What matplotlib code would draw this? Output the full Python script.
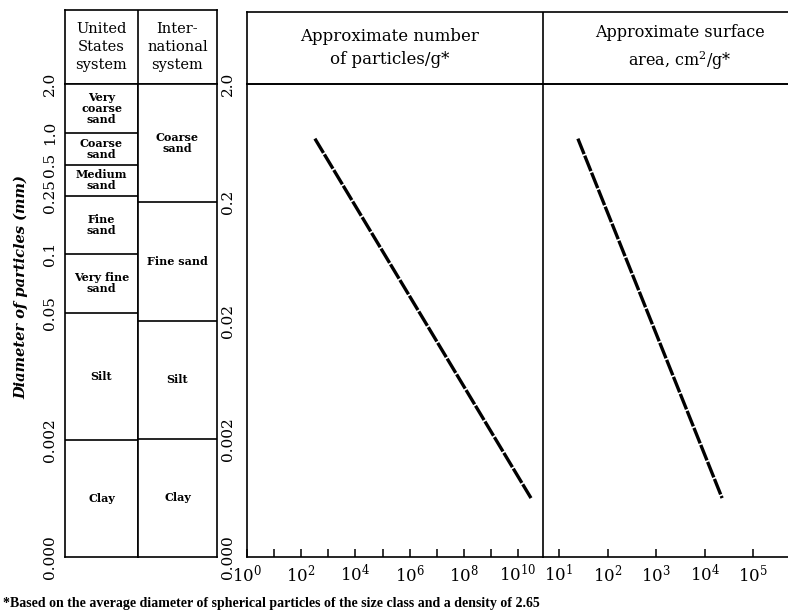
import numpy as np
import matplotlib
matplotlib.use("Agg")
import matplotlib.pyplot as plt
from matplotlib.ticker import FixedLocator, FixedFormatter, NullLocator

plt.rcParams["font.family"] = ["DejaVu Serif"]
plt.rcParams["mathtext.fontset"] = "dejavuserif"

# size classes (diameter limits, mm)
us_bounds = [2.0, 1.0, 0.5, 0.25, 0.1, 0.05, 0.002, 0.0002]
us_tick_labels = ["2.0", "1.0", "0.5", "0.25", "0.1", "0.05", "0.002", "0.000"]
us_names = ["Very\ncoarse\nsand", "Coarse\nsand", "Medium\nsand", "Fine\nsand",
            "Very fine\nsand", "Silt", "Clay"]
intl_bounds = [2.0, 0.2, 0.02, 0.002, 0.0002]
intl_tick_labels = ["2.0", "0.2", "0.02", "0.002", "0.000"]
intl_names = ["Coarse\nsand", "Fine sand", "Silt", "Clay"]

# lines
diam_line = [0.69, 0.00063]
particles_per_g = [3.2e2, 3.0e10]
surface_cm2_per_g = [2.45e1, 2.3e4]

n_ticks = [10.0 ** k for k in range(0, 11)]
s_ticks = [10.0 ** k for k in range(1, 6)]

# the US column is drawn on a schematic (non log) scale in the book
us_axis_pos = [1.0, 0.896, 0.829, 0.763, 0.641, 0.516, 0.247, 0.0]
_lg = np.log10(us_bounds)[::-1]
_ps = np.array(us_axis_pos)[::-1]


def us_forward(d):
    d = np.clip(np.asarray(d, dtype=float), 1e-12, None)
    return np.interp(np.log10(d), _lg, _ps)


def us_inverse(p):
    return 10.0 ** np.interp(p, _ps, _lg)


W, H = 788, 616
LW = 1.2


def box(x0, y0, x1, y1):
    # pixel box (top-left origin) -> figure fraction rect
    return [x0 / W, 1 - y1 / H, (x1 - x0) / W, (y1 - y0) / H]


fig = plt.figure(figsize=(W / 100, H / 100), dpi=100)

# ---- left table ----
ax_th = fig.add_axes(box(65, 10, 217, 84))
ax_th.set_xlim(0, 1)
ax_th.set_ylim(0, 1)
ax_th.set_xticks([])
ax_th.set_yticks([])
for s in ax_th.spines.values():
    s.set_linewidth(LW)
div = (138 - 65) / (217 - 65)
ax_th.axvline(div, color="black", lw=LW)
ax_th.text(div / 2, 0.5, "United\nStates\nsystem", ha="center", va="center",
           fontsize=10.5, linespacing=1.35)
ax_th.text((1 + div) / 2, 0.5, "Inter-\nnational\nsystem", ha="center", va="center",
           fontsize=10.5, linespacing=1.35)

ax_us = fig.add_axes(box(65, 84, 138, 557))
ax_us.set_yscale("function", functions=(us_forward, us_inverse))
ax_us.set_ylim(us_bounds[-1], us_bounds[0])
ax_us.set_xlim(0, 1)
ax_us.set_xticks([])
ax_us.yaxis.set_major_locator(FixedLocator(us_bounds))
ax_us.yaxis.set_major_formatter(FixedFormatter(us_tick_labels))
ax_us.yaxis.set_minor_locator(NullLocator())
ax_us.tick_params(axis="y", length=0, pad=6, labelsize=11)
for lab in ax_us.get_yticklabels():
    lab.set_rotation(90)
    lab.set_va("center")
for s in ax_us.spines.values():
    s.set_linewidth(LW)
for b in us_bounds[1:-1]:
    ax_us.axhline(b, color="black", lw=LW)
for i, name in enumerate(us_names):
    ym = (us_forward(us_bounds[i]) + us_forward(us_bounds[i + 1])) / 2
    ax_us.text(0.5, ym, name, transform=ax_us.transAxes, ha="center", va="center",
               fontsize=8, fontweight="bold", linespacing=1.0)
ax_us.set_ylabel("Diameter of particles (mm)", fontsize=10.5, fontstyle="italic",
                 fontweight="bold")
ax_us.yaxis.set_label_coords(-0.5, 0.57)

ax_in = fig.add_axes(box(138, 84, 217, 557))
ax_in.set_yscale("log")
ax_in.set_ylim(intl_bounds[-1], intl_bounds[0])
ax_in.set_xlim(0, 1)
ax_in.set_xticks([])
ax_in.yaxis.set_major_locator(NullLocator())
ax_in.yaxis.set_minor_locator(NullLocator())
for s in ax_in.spines.values():
    s.set_linewidth(LW)
for b in intl_bounds[1:-1]:
    ax_in.axhline(b, color="black", lw=LW)
for i, name in enumerate(intl_names):
    ym = np.sqrt(intl_bounds[i] * intl_bounds[i + 1])
    ax_in.text(0.5, ym, name, ha="center", va="center", fontsize=8,
               fontweight="bold", linespacing=1.0)

# ---- right chart header ----
ax_h = fig.add_axes(box(247, 12, 788, 84))
ax_h.set_xlim(247, 788)
ax_h.set_ylim(0, 1)
ax_h.set_xticks([])
ax_h.set_yticks([])
ax_h.spines["right"].set_visible(False)
for s in ax_h.spines.values():
    s.set_linewidth(LW)
ax_h.axvline(543, color="black", lw=LW)
ax_h.text(390, 0.5, "Approximate number\nof particles/g*", ha="center", va="center",
          fontsize=12, linespacing=1.45)
ax_h.text(680, 0.5, "Approximate surface\narea, cm$^2$/g*", ha="center", va="center",
          fontsize=11.5, linespacing=1.45)

# ---- right chart panels ----
ax_n = fig.add_axes(box(247, 84, 543, 557))
ax_s = fig.add_axes(box(543, 84, 788, 557))

for ax in (ax_n, ax_s):
    ax.patch.set_visible(False)
    ax.set_xscale("log")
    ax.set_yscale("log")
    ax.set_ylim(intl_bounds[-1], intl_bounds[0])
    ax.yaxis.set_minor_locator(NullLocator())
    ax.xaxis.set_minor_locator(NullLocator())
    ax.tick_params(axis="x", direction="in", length=6, width=1.1, pad=5, labelsize=12)
    for s in ax.spines.values():
        s.set_linewidth(LW)

ax_n.set_xlim(1, 10 ** 10.92)
ax_n.xaxis.set_major_locator(FixedLocator(n_ticks))
ax_n.xaxis.set_major_formatter(FixedFormatter(
    ["$10^{%d}$" % k if k % 2 == 0 else "" for k in range(0, 11)]))
ax_n.yaxis.set_major_locator(FixedLocator(intl_bounds))
ax_n.yaxis.set_major_formatter(FixedFormatter(intl_tick_labels))
ax_n.tick_params(axis="y", length=0, pad=9, labelsize=11)
for lab in ax_n.get_yticklabels():
    lab.set_rotation(90)
    lab.set_va("center")

ax_s.set_xlim(10 ** 0.67, 10 ** 5.72)
ax_s.xaxis.set_major_locator(FixedLocator(s_ticks))
ax_s.xaxis.set_major_formatter(FixedFormatter(["$10^{%d}$" % k for k in range(1, 6)]))
ax_s.yaxis.set_major_locator(NullLocator())
ax_s.spines["left"].set_visible(False)
ax_s.spines["right"].set_visible(False)

ax_n.plot(particles_per_g, diam_line, color="black", lw=2.4, ls=(0, (5, 0.5)),
          dash_capstyle="butt")
ax_s.plot(surface_cm2_per_g, diam_line, color="black", lw=2.4, ls=(0, (5, 0.5)),
          dash_capstyle="butt")

fig.text(3 / W, 1 - 603 / H,
         "*Based on the average diameter of spherical particles of the size class "
         "and a density of 2.65",
         family=["Liberation Serif"], fontweight="bold", fontsize=10,
         ha="left", va="center")

fig.savefig("out.png", dpi=100)
